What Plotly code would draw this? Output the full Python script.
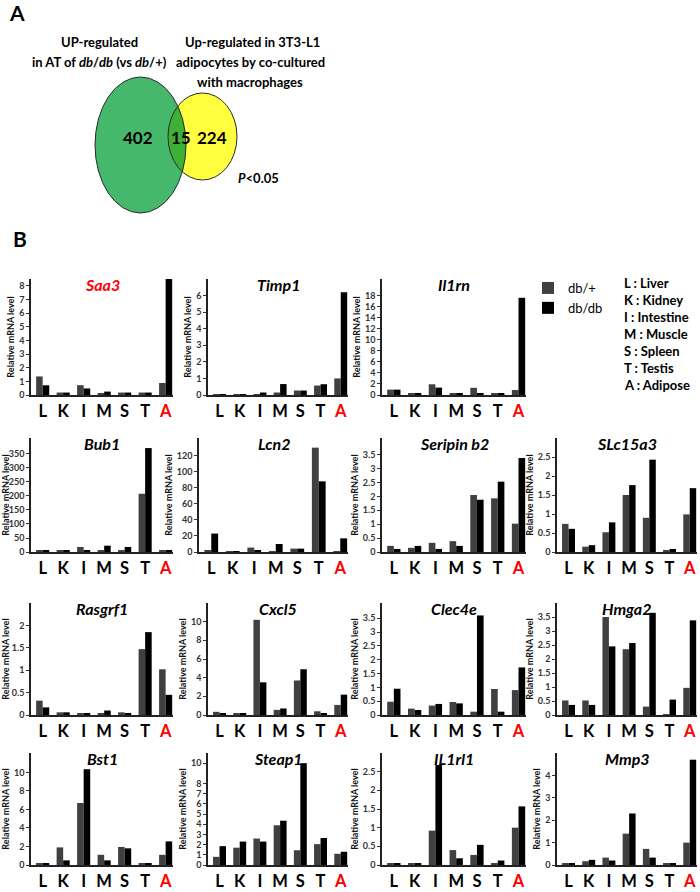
import numpy as np
import plotly.graph_objects as go

W, H = 700, 892
FONT = "Lato"

# ---------------- data ----------------
tissues = ["L", "K", "I", "M", "S", "T", "A"]
tissue_names = ["Liver", "Kidney", "Intestine", "Muscle", "Spleen", "Testis", "Adipose"]
groups = ["db/+", "db/db"]

venn_left_only = 402
venn_both = 15
venn_right_only = 224

saa3_dbp = [1.36, 0.18, 0.72, 0.15, 0.18, 0.18, 0.88]
saa3_dbdb = [0.71, 0.18, 0.48, 0.25, 0.18, 0.18, 8.5]
timp1_dbp = [0.03, 0.02, 0.02, 0.15, 0.27, 0.57, 1.0]
timp1_dbdb = [0.03, 0.02, 0.15, 0.66, 0.27, 0.65, 6.2]
il1rn_dbp = [0.97, 0.25, 1.94, 0.25, 1.3, 0.2, 0.9]
il1rn_dbdb = [0.97, 0.25, 1.33, 0.25, 0.25, 0.25, 17.6]
bub1_dbp = [4.6, 4, 18, 5, 5, 208, 4]
bub1_dbdb = [5, 5, 5, 22.5, 18, 371, 4]
lcn2_dbp = [2, 1, 5.5, 1, 4.2, 130, 1]
lcn2_dbdb = [23, 1, 2, 10, 4.2, 88, 17]
serpinb2_dbp = [0.22, 0.15, 0.33, 0.39, 2.05, 1.93, 1.02]
serpinb2_dbdb = [0.11, 0.22, 0.11, 0.22, 1.88, 2.53, 3.38]
slc15a3_dbp = [0.74, 0.14, 0.52, 1.5, 0.9, 0.03, 0.99]
slc15a3_dbdb = [0.61, 0.18, 0.78, 1.76, 2.43, 0.08, 1.68]
rasgrf1_dbp = [0.32, 0.06, 0.04, 0.03, 0.06, 1.47, 1.02]
rasgrf1_dbdb = [0.17, 0.06, 0.04, 0.1, 0.04, 1.85, 0.45]
cxcl5_dbp = [0.34, 0.15, 10.2, 0.55, 3.7, 0.4, 1.08]
cxcl5_dbdb = [0.2, 0.15, 3.5, 0.7, 4.9, 0.2, 2.18]
clec4e_dbp = [0.48, 0.23, 0.34, 0.47, 0.12, 0.94, 0.9]
clec4e_dbdb = [0.95, 0.18, 0.4, 0.42, 3.6, 0.12, 1.72]
hmga2_dbp = [0.52, 0.52, 3.5, 2.35, 0.3, 0.03, 0.97]
hmga2_dbdb = [0.36, 0.36, 2.45, 2.57, 3.65, 0.55, 3.38]
bst1_dbp = [0.2, 1.9, 6.7, 1.1, 1.95, 0.2, 1.1]
bst1_dbdb = [0.2, 0.5, 10.35, 0.5, 1.8, 0.2, 2.55]
steap1_dbp = [0.8, 1.7, 2.6, 3.9, 1.45, 2.05, 1.1]
steap1_dbdb = [1.85, 2.3, 2.3, 4.35, 10, 2.65, 1.3]
il1rl1_dbp = [0.05, 0.05, 0.92, 0.4, 0.27, 0.05, 1.0]
il1rl1_dbdb = [0.05, 0.05, 2.68, 0.18, 0.54, 0.12, 1.57]
mmp3_dbp = [0.08, 0.17, 0.33, 1.4, 0.72, 0.08, 1.0]
mmp3_dbdb = [0.08, 0.23, 0.2, 2.3, 0.33, 0.08, 4.7]

ticks_saa3 = [0, 1, 2, 3, 4, 5, 6, 7, 8]
ticks_timp1 = [0, 1, 2, 3, 4, 5, 6]
ticks_il1rn = [0, 2, 4, 6, 8, 10, 12, 14, 16, 18]
ticks_bub1 = [0, 50, 100, 150, 200, 250, 300, 350]
ticks_lcn2 = [0, 20, 40, 60, 80, 100, 120]
ticks_half35 = [0, 0.5, 1, 1.5, 2, 2.5, 3, 3.5]
ticks_half25 = [0, 0.5, 1, 1.5, 2, 2.5]
ticks_half20 = [0, 0.5, 1, 1.5, 2]
ticks_even10 = [0, 2, 4, 6, 8, 10]
ticks_steap1 = [0, 1, 2, 3, 4, 5, 6, 7, 8, 10]
ticks_mmp3 = [0, 1, 2, 3, 4]

# (name, db/+, db/db, ticks, axis max, row, col)
panels = [
    ("Saa3", saa3_dbp, saa3_dbdb, ticks_saa3, 8.5, 0, 0),
    ("Timp1", timp1_dbp, timp1_dbdb, ticks_timp1, 7.0, 0, 1),
    ("Il1rn", il1rn_dbp, il1rn_dbdb, ticks_il1rn, 21, 0, 2),
    ("Bub1", bub1_dbp, bub1_dbdb, ticks_bub1, 407, 1, 0),
    ("Lcn2", lcn2_dbp, lcn2_dbdb, ticks_lcn2, 142, 1, 1),
    ("Seripin b2", serpinb2_dbp, serpinb2_dbdb, ticks_half35, 4.1, 1, 2),
    ("SLc15a3", slc15a3_dbp, slc15a3_dbdb, ticks_half25, 3.0, 1, 3),
    ("Rasgrf1", rasgrf1_dbp, rasgrf1_dbdb, ticks_half20, 2.5, 2, 0),
    ("Cxcl5", cxcl5_dbp, cxcl5_dbdb, ticks_even10, 12, 2, 1),
    ("Clec4e", clec4e_dbp, clec4e_dbdb, ticks_half35, 4.05, 2, 2),
    ("Hmga2", hmga2_dbp, hmga2_dbdb, ticks_half35, 4.0, 2, 3),
    ("Bst1", bst1_dbp, bst1_dbdb, ticks_even10, 12.1, 3, 0),
    ("Steap1", steap1_dbp, steap1_dbdb, ticks_steap1, 11, 3, 1),
    ("IL1rl1", il1rl1_dbp, il1rl1_dbdb, ticks_half25, 3.0, 3, 2),
    ("Mmp3", mmp3_dbp, mmp3_dbdb, ticks_mmp3, 5.0, 3, 3),
]

# ---------------- layout geometry (pixels) ----------------
row_top = [279, 438, 603, 753]
row_bot = [395, 552, 715, 865]
col_x = [(31, 173), (208, 348), (382, 526), (557, 697)]

def px(x):
    return x / W

def py(y):
    return 1 - y / H

fig = go.Figure()
layout = dict(
    width=W, height=H,
    margin=dict(l=0, r=0, t=0, b=0),
    paper_bgcolor="white", plot_bgcolor="white",
    barmode="group", bargap=0.36, bargroupgap=0,
    font=dict(family=FONT, color="black"),
    showlegend=True,
    legend=dict(x=px(528), y=py(273), xanchor="left", yanchor="top",
                font=dict(family=FONT, size=13, color="black"),
                itemwidth=30, tracegroupgap=0, bgcolor="rgba(0,0,0,0)"),
)
annotations = []
shapes = []

tick_text_x = ["<b>%s</b>" % t for t in tissues[:-1]] + ["<b><span style='color:red'>%s</span></b>" % tissues[-1]]
bar_colors = ["#404040", "#000000"]

for i, (name, dbp, dbdb, ticks, ymax, r, c) in enumerate(panels):
    k = i + 1
    xs = "x" if k == 1 else "x%d" % k
    ys = "y" if k == 1 else "y%d" % k
    x0, x1 = col_x[c]
    if name == "Lcn2":
        x0 = 199
    for g, vals in enumerate([dbp, dbdb]):
        fig.add_trace(go.Bar(
            x=tissues, y=vals, name=groups[g], marker_color=bar_colors[g],
            marker_line_width=0, xaxis=xs, yaxis=ys,
            showlegend=(k == 1), legendgroup=groups[g],
            offsetgroup=str(g),
        ))
    layout["xaxis" if k == 1 else "xaxis%d" % k] = dict(
        domain=[px(x0), px(x1)], anchor=ys, type="category",
        range=[-0.57, 6.36], showline=True, linecolor="#222", linewidth=1.5,
        ticks="", tickvals=tissues, ticktext=tick_text_x,
        tickfont=dict(family=FONT, size=16.5, color="black"),
        showgrid=False, zeroline=False, fixedrange=True, automargin=False,
    )
    layout["yaxis" if k == 1 else "yaxis%d" % k] = dict(
        domain=[py(row_bot[r]), py(row_top[r])], anchor=xs,
        range=[0, ymax], tickvals=ticks, ticktext=["<b>%s</b>" % f"{t:g}" for t in ticks],
        showline=True, linecolor="#222", linewidth=1.5,
        ticks="outside", ticklen=3, tickwidth=1, tickcolor="#333",
        tickfont=dict(family=FONT, size=9, color="#333"),
        showgrid=False, zeroline=False, fixedrange=True, automargin=False,
        title=dict(text="<b>Relative mRNA level</b>", standoff=3,
                   font=dict(family=FONT, size=9, color="#111")),
    )
    # panel title
    annotations.append(dict(
        x=px((x0 + x1) / 2), y=py(row_top[r] + 5), xref="paper", yref="paper",
        text="<b><i>%s</i></b>" % name, showarrow=False, xanchor="center", yanchor="middle",
        font=dict(family=FONT, size=16, color="red" if name == "Saa3" else "black"),
    ))

# tissue key
for j, (t, nm) in enumerate(zip(tissues, tissue_names)):
    annotations.append(dict(
        x=px(622), y=py(283 + 17 * j), xref="paper", yref="paper",
        text="<b>%s : %s</b>" % (t, nm), showarrow=False, xanchor="left", yanchor="middle",
        font=dict(family=FONT, size=13, color="black"),
    ))

# panel letters
annotations.append(dict(x=px(7), y=py(13), xref="paper", yref="paper", text="<b>A</b>",
                        showarrow=False, xanchor="left", yanchor="middle",
                        font=dict(family=FONT, size=21, color="black")))
annotations.append(dict(x=px(11), y=py(238), xref="paper", yref="paper", text="<b>B</b>",
                        showarrow=False, xanchor="left", yanchor="middle",
                        font=dict(family=FONT, size=21, color="black")))

# ---------------- Venn diagram ----------------
gcx, gcy, grx, gry = 140.5, 145.0, 45.5, 68.0
ycx, ycy, yrx, yry = 202.5, 136.5, 34.5, 43.5

shapes.append(dict(type="circle", xref="paper", yref="paper",
                   x0=px(gcx - grx), x1=px(gcx + grx), y0=py(gcy + gry), y1=py(gcy - gry),
                   fillcolor="#45b86c", line=dict(width=0), layer="below"))
shapes.append(dict(type="circle", xref="paper", yref="paper",
                   x0=px(ycx - yrx), x1=px(ycx + yrx), y0=py(ycy + yry), y1=py(ycy - yry),
                   fillcolor="#ffff40", line=dict(width=0), layer="below"))

t1 = np.linspace(0, 2 * np.pi, 1441)
yx = ycx + yrx * np.cos(t1)
yy = ycy + yry * np.sin(t1)
in_g = ((yx - gcx) / grx) ** 2 + ((yy - gcy) / gry) ** 2 <= 1
t2 = np.linspace(np.pi, 3 * np.pi, 1441)
gx = gcx + grx * np.cos(t2)
gy = gcy + gry * np.sin(t2)
in_y = ((gx - ycx) / yrx) ** 2 + ((gy - ycy) / yry) ** 2 <= 1
pts = list(zip(yx[in_g], yy[in_g])) + list(zip(gx[in_y], gy[in_y]))
lens_path = "M " + " L ".join("%.5f,%.5f" % (px(a), py(b)) for a, b in pts) + " Z"
shapes.append(dict(type="path", xref="paper", yref="paper", path=lens_path,
                   fillcolor="#3db134", line=dict(width=0), layer="below"))
for cx, cy, rx, ry in [(gcx, gcy, grx, gry), (ycx, ycy, yrx, yry)]:
    shapes.append(dict(type="circle", xref="paper", yref="paper",
                       x0=px(cx - rx), x1=px(cx + rx), y0=py(cy + ry), y1=py(cy - ry),
                       fillcolor="rgba(0,0,0,0)", line=dict(color="#2a2a2a", width=1), layer="below"))

venn_texts = [
    (138, 137, str(venn_left_only)),
    (181, 137, str(venn_both)),
    (212, 137, str(venn_right_only)),
]
for x, y, s in venn_texts:
    annotations.append(dict(x=px(x), y=py(y), xref="paper", yref="paper", text="<b>%s</b>" % s,
                            showarrow=False, xanchor="center", yanchor="middle",
                            font=dict(family=FONT, size=17, color="black")))

header = [
    (99, 42, "<b>UP-regulated</b>"),
    (99, 62, "<b>in AT of <i>db</i>/<i>db</i> (vs <i>db</i>/+)</b>"),
    (252, 42, "<b>Up-regulated in 3T3-L1</b>"),
    (250, 62, "<b>adipocytes by co-cultured</b>"),
    (250, 82, "<b>with macrophages</b>"),
    (258, 178, "<b><i>P</i>&lt;0.05</b>"),
]
for x, y, s in header:
    annotations.append(dict(x=px(x), y=py(y), xref="paper", yref="paper", text=s,
                            showarrow=False, xanchor="center", yanchor="middle",
                            font=dict(family=FONT, size=13, color="black")))

layout["annotations"] = annotations
layout["shapes"] = shapes
fig.update_layout(**layout)
fig.write_html("out.html", config={"displayModeBar": False},
               post_script="document.body.style.margin='0';document.body.style.overflow='hidden';")
